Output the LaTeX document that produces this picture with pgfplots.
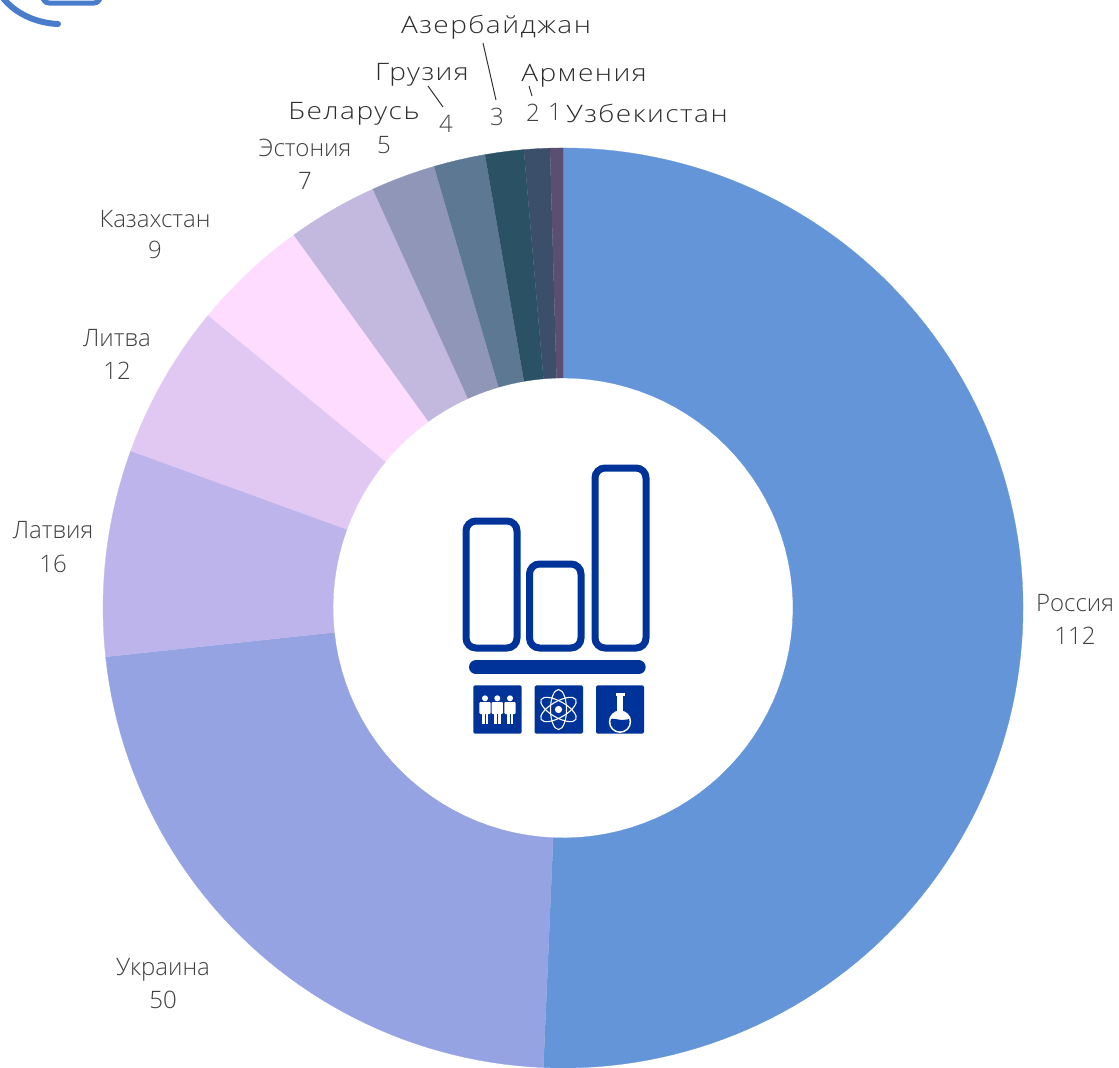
\documentclass[border=0pt]{standalone}
\usepackage{fontspec}
\setmainfont{Open Sans Light}
\newfontfamily\wide[FakeStretch=1.17,LetterSpace=6]{Open Sans Light}
\usepackage{pgfplots}
\pgfplotsset{compat=1.18}
\definecolor{cRu}{HTML}{6495D9}
\definecolor{cUa}{HTML}{96A3E3}
\definecolor{cLv}{HTML}{BDB4EC}
\definecolor{cLt}{HTML}{E1C8F3}
\definecolor{cKz}{HTML}{FDDCFF}
\definecolor{cEe}{HTML}{C3B8DE}
\definecolor{cBy}{HTML}{9096B8}
\definecolor{cGe}{HTML}{5D7893}
\definecolor{cAz}{HTML}{2B5165}
\definecolor{cAm}{HTML}{3B4F6B}
\definecolor{cUz}{HTML}{5A4F70}
\definecolor{navy}{HTML}{003399}
\definecolor{deco}{HTML}{4A7CCC}
\definecolor{txt}{HTML}{404040}
\definecolor{txtd}{HTML}{2E2E2E}
\pgfplotsset{
  px/.style={hide axis,scale only axis,width=1119pt,height=1068pt,clip=true},
  slice/.style={fill=#1,draw=#1,line width=0.3pt,no markers,data cs=polar},
  table/ring/.style={x expr={90-\thisrow{v}*360/221},y=r,row sep=\\}
}
\newcommand{\lab}[3]{\node[text=txt,font=\fontsize{24}{26}\selectfont,inner sep=0pt,anchor=center] at (#1,#2) {#3};}
\newcommand{\labw}[3]{\node[text=txtd,font=\fontsize{24}{26}\selectfont\wide,inner sep=0pt,anchor=center] at (#1,#2) {#3};}
\begin{document}
\begin{tikzpicture}
\begin{axis}[px,xmin=-563,xmax=556,ymin=-460,ymax=608]
% values: Россия 112, Украина 50, Латвия 16, Литва 12, Казахстан 9, Эстония 7, Беларусь 5, Грузия 4, Азербайджан 3, Армения 2, Узбекистан 1
\addplot[slice=cRu] table[ring] {v r\\
0 460\\1 460\\2 460\\3 460\\4 460\\5 460\\6 460\\7 460\\8 460\\9 460\\10 460\\11 460\\12 460\\13 460\\14 460\\15 460\\16 460\\17 460\\18 460\\19 460\\20 460\\21 460\\22 460\\23 460\\24 460\\25 460\\26 460\\27 460\\28 460\\29 460\\30 460\\31 460\\32 460\\33 460\\34 460\\35 460\\36 460\\37 460\\38 460\\39 460\\40 460\\41 460\\42 460\\43 460\\44 460\\45 460\\46 460\\47 460\\48 460\\49 460\\50 460\\51 460\\52 460\\53 460\\54 460\\55 460\\56 460\\57 460\\58 460\\59 460\\60 460\\61 460\\62 460\\63 460\\64 460\\65 460\\66 460\\67 460\\68 460\\69 460\\70 460\\71 460\\72 460\\73 460\\74 460\\75 460\\76 460\\77 460\\78 460\\79 460\\80 460\\81 460\\82 460\\83 460\\84 460\\85 460\\86 460\\87 460\\88 460\\89 460\\90 460\\91 460\\92 460\\93 460\\94 460\\95 460\\96 460\\97 460\\98 460\\99 460\\100 460\\101 460\\102 460\\103 460\\104 460\\105 460\\106 460\\107 460\\108 460\\109 460\\110 460\\111 460\\112 460\\
112 230\\110 230\\108 230\\106 230\\104 230\\102 230\\100 230\\98 230\\96 230\\94 230\\92 230\\90 230\\88 230\\86 230\\84 230\\82 230\\80 230\\78 230\\76 230\\74 230\\72 230\\70 230\\68 230\\66 230\\64 230\\62 230\\60 230\\58 230\\56 230\\54 230\\52 230\\50 230\\48 230\\46 230\\44 230\\42 230\\40 230\\38 230\\36 230\\34 230\\32 230\\30 230\\28 230\\26 230\\24 230\\22 230\\20 230\\18 230\\16 230\\14 230\\12 230\\10 230\\8 230\\6 230\\4 230\\2 230\\0 230\\
};
\addplot[slice=cUa] table[ring] {v r\\
112 460\\113 460\\114 460\\115 460\\116 460\\117 460\\118 460\\119 460\\120 460\\121 460\\122 460\\123 460\\124 460\\125 460\\126 460\\127 460\\128 460\\129 460\\130 460\\131 460\\132 460\\133 460\\134 460\\135 460\\136 460\\137 460\\138 460\\139 460\\140 460\\141 460\\142 460\\143 460\\144 460\\145 460\\146 460\\147 460\\148 460\\149 460\\150 460\\151 460\\152 460\\153 460\\154 460\\155 460\\156 460\\157 460\\158 460\\159 460\\160 460\\161 460\\162 460\\
162 230\\160 230\\158 230\\156 230\\154 230\\152 230\\150 230\\148 230\\146 230\\144 230\\142 230\\140 230\\138 230\\136 230\\134 230\\132 230\\130 230\\128 230\\126 230\\124 230\\122 230\\120 230\\118 230\\116 230\\114 230\\112 230\\
};
\addplot[slice=cLv] table[ring] {v r\\
162 460\\163 460\\164 460\\165 460\\166 460\\167 460\\168 460\\169 460\\170 460\\171 460\\172 460\\173 460\\174 460\\175 460\\176 460\\177 460\\178 460\\
178 230\\176 230\\174 230\\172 230\\170 230\\168 230\\166 230\\164 230\\162 230\\
};
\addplot[slice=cLt] table[ring] {v r\\
178 460\\179 460\\180 460\\181 460\\182 460\\183 460\\184 460\\185 460\\186 460\\187 460\\188 460\\189 460\\190 460\\
190 230\\188 230\\186 230\\184 230\\182 230\\180 230\\178 230\\
};
\addplot[slice=cKz] table[ring] {v r\\
190 460\\191 460\\192 460\\193 460\\194 460\\195 460\\196 460\\197 460\\198 460\\199 460\\
199 230\\197 230\\195 230\\193 230\\191 230\\190 230\\
};
\addplot[slice=cEe] table[ring] {v r\\
199 460\\200 460\\201 460\\202 460\\203 460\\204 460\\205 460\\206 460\\
206 230\\204 230\\202 230\\200 230\\199 230\\
};
\addplot[slice=cBy] table[ring] {v r\\
206 460\\207 460\\208 460\\209 460\\210 460\\211 460\\
211 230\\209 230\\207 230\\206 230\\
};
\addplot[slice=cGe] table[ring] {v r\\
211 460\\212 460\\213 460\\214 460\\215 460\\
215 230\\213 230\\211 230\\
};
\addplot[slice=cAz] table[ring] {v r\\
215 460\\216 460\\217 460\\218 460\\
218 230\\216.5 230\\215 230\\
};
\addplot[slice=cAm] table[ring] {v r\\
218 460\\219 460\\220 460\\
220 230\\219 230\\218 230\\
};
\addplot[slice=cUz] table[ring] {v r\\
220 460\\221 460\\
221 230\\220 230\\
};
\end{axis}
\begin{axis}[px,xmin=0,xmax=1119,ymin=0,ymax=1068,y dir=reverse]
\path (0,0) rectangle (1119,1068);
% labels
\lab{1075}{603}{Россия}\lab{1075}{636}{112}
\lab{163}{970}{Украина}\lab{163}{1000}{50}
\lab{53}{530}{Латвия}\lab{53}{564}{16}
\lab{117}{338}{Литва}\lab{117}{371}{12}
\lab{155}{219}{Казахстан}\lab{155}{250}{9}
\lab{305}{148}{Эстония}\lab{305}{181}{7}
\labw{354}{114}{Беларусь}\lab{384}{145}{5}
\labw{422}{75}{Грузия}\lab{446}{124}{4}
\labw{496}{27}{Азербайджан}\lab{497}{117}{3}
\labw{584}{76}{Армения}\lab{533}{113}{2}
\lab{555}{112}{1}\labw{647}{113}{Узбекистан}
\draw[black!80,line width=1pt] (483,43)--(496,100);
\draw[black!80,line width=1pt] (428,86)--(443,107);
\draw[black!80,line width=1pt] (529,86)--(532,96);
% logo
\draw[navy,line width=7pt,rounded corners=10pt] (466,521) rectangle (517,648);
\draw[navy,line width=7pt,rounded corners=10pt] (529.5,564) rectangle (581,648);
\draw[navy,line width=7pt,rounded corners=10pt] (595,468) rectangle (646,648);
\draw[navy,line width=14pt,line cap=round] (476,667.3)--(638.7,667.3);
\fill[navy,rounded corners=1.5pt] (473.3,685.3) rectangle (521.7,733.7);
\fill[navy,rounded corners=1.5pt] (534.7,685.3) rectangle (583,733.7);
\fill[navy,rounded corners=1.5pt] (596,685.3) rectangle (644,733.7);
% people
\pgfplotsinvokeforeach{485,497.3,510}{
  \fill[white] (#1,698.3) circle[radius=3pt];
  \fill[white,rounded corners=1pt] ({#1-5.6},702) rectangle ({#1+5.6},714);
  \fill[white] ({#1-3.4},705) rectangle ({#1+3.4},723.5);
  \draw[navy,line width=0.5pt] (#1,714)--(#1,724);
}
% atom
\pgfplotsinvokeforeach{30,90,150}{
  \draw[white,line width=1.1pt,rotate around={#1:(558.5,709.5)}] (558.5,709.5) ellipse[x radius=20pt,y radius=8pt];
}
\fill[white] (558.5,709.5) circle[radius=3.6pt];
% flask
\fill[white] (620,721.7) circle[radius=11.2pt];
\fill[white] (617,695) rectangle (623,712);
\fill[white] (615.5,693.2) rectangle (624.5,695.6);
\begin{scope}
\clip (620,721.7) circle[radius=9.6pt];
\fill[navy] (608,720) .. controls (613,716) and (620,723) .. (632,718) -- (632,734) -- (608,734) -- cycle;
\end{scope}
% corner decoration
\draw[overlay,deco,line width=6pt,line cap=round] (3,-2) .. controls (14,12) and (34,23) .. (58,24);
\draw[overlay,deco,line width=5pt,rounded corners=6pt] (43,-8)--(43,3)--(100,3)--(100,-8);
\end{axis}
\end{tikzpicture}
\end{document}
